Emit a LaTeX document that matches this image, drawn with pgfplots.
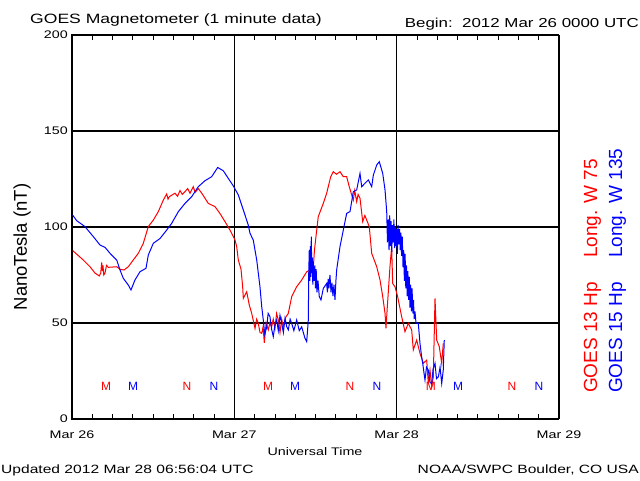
\documentclass[border=0pt]{standalone}
\usepackage{pgfplots}
\pgfplotsset{compat=1.18}
\usepackage{fontspec}
\setmainfont{Liberation Sans}
\newfontfamily\hf[FakeStretch=1.3]{Liberation Sans}
\definecolor{gred}{RGB}{255,0,0}
\definecolor{gblue}{RGB}{0,0,255}
\begin{document}
\begin{tikzpicture}[x=1pt,y=1pt]
\useasboundingbox (0,0) rectangle (640,480);
\fill[white] (0,0) rectangle (640,480);
\begin{axis}[
  at={(72pt,61pt)}, anchor=south west,
  scale only axis, width=487pt, height=384pt,
  xmin=0, xmax=72, ymin=0, ymax=200,
  xtick={0,24,48,72}, xticklabels={Mar 26,Mar 27,Mar 28,Mar 29},
  minor xtick={3,6,9,12,15,18,21,27,30,33,36,39,42,45,51,54,57,60,63,66,69},
  ytick={0,50,100,150,200}, yticklabels={0,50,100,150,200},
  grid=major, major grid style={black, line width=1.3pt},
  axis line style={black, line width=1pt},
  tick align=inside, major tick length=0pt, minor tick length=5pt,
  minor tick style={black, line width=0.8pt},
  xticklabel style={font=\hf\fontsize{11}{11}\selectfont, anchor=base, yshift=-19pt, inner sep=0pt},
  yticklabel style={font=\hf\fontsize{11}{11}\selectfont, anchor=east, inner sep=0pt, xshift=-4pt},
]
\addplot[gred, line width=1pt] coordinates {
(0.10,87.7) (1.67,82.8) (2.66,79.3) (3.40,76.0) (4.04,74.5) (4.25,76) (4.39,81.5) (4.50,77) (4.58,80) (4.70,75) (4.88,76) (5.10,80) (5.37,79)
(6.61,79.3) (7.10,78) (7.69,77.6) (8.32,79.3) (9.06,82.8) (9.80,86.3) (10.54,91.5) (11.28,100.2) (12.02,103.6) (12.76,108) (13.50,114)
(14.00,117.2) (14.20,114.5) (14.39,115.8) (15.23,117.6) (15.60,116) (15.97,119) (16.30,117) (16.71,118.4) (17.10,120) (17.45,117.6)
(17.93,121) (18.20,118) (18.67,120) (19.18,117.6) (20.15,112.3) (21.14,110.6) (21.88,107) (22.62,102.8) (23.36,98.4) (24.10,93.2)
(24.35,89.7) (24.59,82.8) (24.99,78) (25.23,68.9) (25.33,62.8) (25.83,66.3) (26.21,59.4) (26.57,55) (27.06,47.2) (27.30,52) (27.54,49.8)
(27.80,45) (28.05,44.6) (28.25,48) (28.43,39.7) (28.70,50) (29.02,46.4) (29.25,50) (29.52,48) (29.75,52) (30.01,47.2) (30.25,55)
(30.50,51.6) (30.75,45) (31.00,52) (31.24,48) (31.60,53) (31.98,55) (32.48,63.7) (33.22,68.9) (33.96,72.4) (34.70,76.7) (35.19,77.6)
(35.68,79.3) (35.85,88) (36.07,95) (36.41,105.4) (37.15,112.3) (37.65,117.6) (38.25,126.2) (38.63,128.8) (39.10,127.5) (39.62,128.8)
(40.11,126.2) (40.61,126.2) (40.99,121) (41.35,116.7) (41.59,114) (41.80,119) (42.09,113.2) (42.30,117) (42.58,115) (42.98,102.8)
(43.30,106) (43.57,103.6) (43.95,100.2) (44.31,86.3) (45.05,79.3) (45.54,72.4) (45.94,63.7) (46.28,55) (46.42,47.2) (46.62,58.5)
(47.01,79.3) (47.26,89.7) (47.41,70.6) (47.75,68.9) (48.15,63.7) (48.24,62) (48.74,53.3) (49.23,45.5) (49.72,49.8) (50.22,46.4)
(50.46,36) (50.96,41.1) (51.45,34.2) (51.94,29) (52.44,30.7) (52.68,18.5) (52.93,25.5) (53.18,16.8) (53.42,22) (53.67,62.8)
(53.92,41.1) (54.30,37.7) (54.66,29) (54.89,39.4)
};
\addplot[gblue, line width=1pt] coordinates {
(0.10,106.2) (0.69,103.3) (1.92,100.2) (3.15,95) (4.14,90.6) (4.88,89.4) (5.62,86.3) (6.61,82.8) (7.10,77.6) (7.58,73.3) (8.32,69.8)
(8.72,67.2) (9.31,72.4) (10.05,76.7) (10.94,78.5) (11.28,85.4) (12.02,91.5) (13.01,94) (14.00,98.4) (14.74,101.9) (15.72,108)
(16.71,112.3) (17.70,115.8) (18.67,121) (19.66,124.1) (20.65,126.2) (21.54,131) (22.37,129.3) (23.11,125.3) (23.85,121.4) (24.59,116.7)
(25.33,108.9) (26.06,101) (26.32,96.7) (26.80,93.2) (27.31,82.8) (27.79,68.9) (28.05,58.5) (28.28,51.6) (28.50,44) (28.79,48) (29.00,55)
(29.27,53.3) (29.50,47) (29.76,42.9) (30.00,49) (30.26,51.6) (30.50,46) (30.75,54) (31.00,49.8) (31.25,45) (31.49,52.4) (31.75,48)
(31.98,46.4) (32.25,52) (32.48,49.8) (32.80,46) (33.22,51.6) (33.60,46) (33.96,48) (34.45,42) (34.70,40.3) (34.94,51.6) (35.00,76)
(35.08,88) (35.16,72) (35.23,90) (35.31,74) (35.38,95) (35.45,76) (35.53,84) (35.60,70) (35.68,82) (35.78,72) (35.90,80) (36.00,68)
(36.10,78) (36.22,66) (36.37,72) (36.56,63.7) (36.81,62) (37.15,68) (37.65,70.6) (37.76,66) (37.88,73) (37.98,68) (38.14,75) (38.29,66)
(38.43,71) (38.58,64) (38.73,70) (38.88,62) (39.02,72) (39.13,77.6) (39.62,89.7) (40.11,98.4) (40.61,107.1) (41.10,108) (41.59,118.4)
(42.09,119.3) (42.58,127.9) (42.83,121) (43.32,122.8) (43.81,124.5) (44.31,121) (44.55,127) (45.05,132.3) (45.43,134) (45.94,127.9)
(46.28,119.3) (46.53,108) (46.64,92) (46.76,104) (46.87,88) (46.97,106) (47.07,90) (47.18,103) (47.28,87) (47.38,101) (47.49,92)
(47.59,104) (47.69,89) (47.80,100) (47.90,90) (48.00,99) (48.11,86) (48.21,101) (48.32,91) (48.42,99) (48.52,88) (48.63,97) (48.73,85)
(48.83,95) (48.94,79) (49.04,88) (49.14,72) (49.25,86) (49.35,68) (49.45,80) (49.56,64) (49.66,77) (49.76,62) (49.87,74) (49.97,58)
(50.07,70) (50.18,56) (50.28,68) (50.39,55) (50.49,62) (50.59,52) (50.71,56) (50.86,50) (51.20,49.8) (51.45,39.4) (51.67,33) (51.85,29)
(52.04,24) (52.19,20.3) (52.41,27) (52.68,25.5) (52.93,19) (53.18,18.5) (53.38,26) (53.67,29) (53.89,21) (54.17,22) (54.42,27)
(54.66,18.5) (54.89,25.5) (55.04,41.1)
};
\addplot[draw=none, nodes near coords={M}, every node near coord/.append style={anchor=center, text=gred, font=\fontsize{12}{12}\selectfont}] coordinates {(5.03,17.2) (29.0,17.2) (53.07,17.2)};
\addplot[draw=none, nodes near coords={N}, every node near coord/.append style={anchor=center, text=gred, font=\fontsize{12}{12}\selectfont}] coordinates {(17.0,17.2) (41.1,17.2) (65.05,17.2)};
\addplot[draw=none, nodes near coords={M}, every node near coord/.append style={anchor=center, text=gblue, font=\fontsize{12}{12}\selectfont}] coordinates {(9.02,17.2) (32.97,17.2) (57.07,17.2)};
\addplot[draw=none, nodes near coords={N}, every node near coord/.append style={anchor=center, text=gblue, font=\fontsize{12}{12}\selectfont}] coordinates {(21.0,17.2) (45.09,17.2) (69.04,17.2)};
\end{axis}
\node[anchor=base west, inner sep=0pt, font=\hf\fontsize{13.5}{14}\selectfont] at (30,456) {GOES Magnetometer (1 minute data)};
\node[anchor=base east, inner sep=0pt, font=\hf\fontsize{13}{14}\selectfont] at (639,452) {Begin:\ \ 2012 Mar 26 0000 UTC};
\node[anchor=base, inner sep=0pt, font=\hf\fontsize{11}{12}\selectfont] at (315,25) {Universal Time};
\node[anchor=base west, inner sep=0pt, font=\hf\fontsize{12}{12}\selectfont] at (1,7) {Updated 2012 Mar 28 06:56:04 UTC};
\node[anchor=base east, inner sep=0pt, font=\hf\fontsize{12}{12}\selectfont] at (639,7) {NOAA/SWPC Boulder, CO USA};
\node[rotate=90, inner sep=0pt, font=\fontsize{18.5}{19}\selectfont] at (22,233) {NanoTesla (nT)};
\node[rotate=90, anchor=base west, inner sep=0pt, text=gred, font=\fontsize{19}{19}\selectfont] at (597,87) {GOES 13 Hp\hspace{24pt}Long. W 75};
\node[rotate=90, anchor=base west, inner sep=0pt, text=gblue, font=\fontsize{19}{19}\selectfont] at (622,87) {GOES 15 Hp\hspace{24pt}Long. W 135};
\end{tikzpicture}
\end{document}
